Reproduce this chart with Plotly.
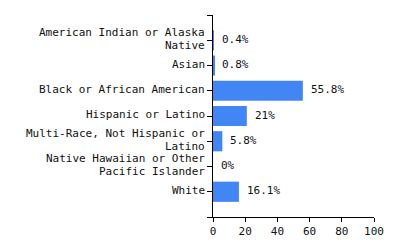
import plotly.graph_objects as go

categories = [
    ["American Indian or Alaska", "Native"],
    ["Asian"],
    ["Black or African American"],
    ["Hispanic or Latino"],
    ["Multi-Race, Not Hispanic or", "Latino"],
    ["Native Hawaiian or Other", "Pacific Islander"],
    ["White"],
]
values = [0.4, 0.8, 55.8, 21, 5.8, 0, 16.1]
value_labels = ["0.4%", "0.8%", "55.8%", "21%", "5.8%", "0%", "16.1%"]
x_ticks = [0, 20, 40, 60, 80, 100]

positions = list(range(1, len(categories) + 1))
font = dict(family="DejaVu Sans Mono", size=11, color="#111")

fig = go.Figure(
    go.Bar(
        x=values,
        y=positions,
        orientation="h",
        width=0.8,
        marker=dict(color="#4285f4", line=dict(width=0)),
        hoverinfo="skip",
    )
)

annotations = []
# value labels
for v, lab, p in zip(values, value_labels, positions):
    annotations.append(dict(
        x=v, y=p, xref="x", yref="y", text=lab, showarrow=False,
        xanchor="left", yanchor="middle", xshift=6, yshift=1, font=font,
    ))
# category labels (tight line spacing)
line_gap = 13
for lines, p in zip(categories, positions):
    n = len(lines)
    for i, line in enumerate(lines):
        offset = (n - 1) / 2 - i
        annotations.append(dict(
            x=0, y=p, xref="paper", yref="y", text=line, showarrow=False,
            xanchor="right", yanchor="middle", xshift=-6,
            yshift=1.5 + offset * line_gap, font=font, align="right",
        ))

fig.update_layout(
    width=400,
    height=250,
    margin=dict(l=213, r=26, t=15, b=29),
    paper_bgcolor="white",
    plot_bgcolor="white",
    font=font,
    showlegend=False,
    annotations=annotations,
)
fig.update_xaxes(
    range=[0, 100],
    tickvals=x_ticks,
    ticktext=[str(v) for v in x_ticks],
    showgrid=False,
    zeroline=False,
    showline=True,
    linecolor="black",
    linewidth=1,
    ticks="outside",
    ticklen=4,
    tickcolor="black",
    tickfont=font,
)
fig.update_yaxes(
    range=[len(categories) + 1, 0],
    tickvals=[0] + positions + [len(categories) + 1],
    showticklabels=False,
    showgrid=False,
    zeroline=False,
    showline=True,
    linecolor="black",
    linewidth=1,
    ticks="outside",
    ticklen=5,
    tickcolor="black",
)

fig.write_html("out.html")
